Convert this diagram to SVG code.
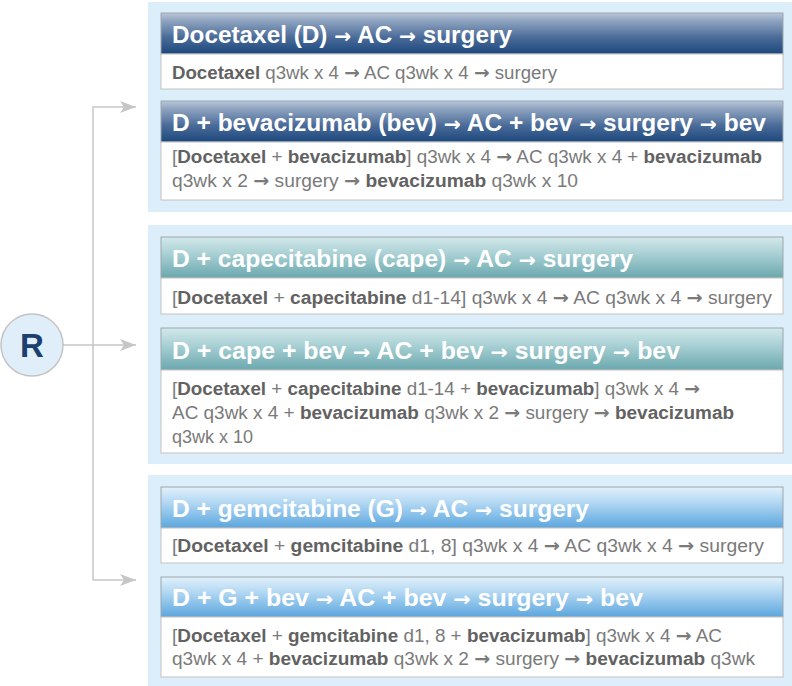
<svg xmlns="http://www.w3.org/2000/svg" width="792" height="686" viewBox="0 0 792 686">
<defs>
<linearGradient id="gNavy" x1="0" y1="0" x2="0" y2="1">
<stop offset="0" stop-color="#b9c6d8"/>
<stop offset="0.2" stop-color="#8da2bf"/>
<stop offset="0.6" stop-color="#4a6b98"/>
<stop offset="1" stop-color="#1c477d"/>
</linearGradient>
<linearGradient id="gTeal" x1="0" y1="0" x2="0" y2="1">
<stop offset="0" stop-color="#d3e8ea"/>
<stop offset="0.4" stop-color="#aad1d5"/>
<stop offset="1" stop-color="#6aa8ae"/>
</linearGradient>
<linearGradient id="gSky" x1="0" y1="0" x2="0" y2="1">
<stop offset="0" stop-color="#e2f1fb"/>
<stop offset="0.4" stop-color="#b0d6f2"/>
<stop offset="1" stop-color="#5ba6de"/>
</linearGradient>
<marker id="arr" markerWidth="16" markerHeight="12" refX="16" refY="6" orient="auto" markerUnits="userSpaceOnUse">
<path d="M0,0 L16,6 L0,12 L4,6 z" fill="#c6c6c6"/>
</marker>
</defs>
<style>
.panel{fill:#dbeef9}
.hdr{stroke:#9ea6ae;stroke-width:1}
.body{fill:#fff;stroke:#c2c2c2;stroke-width:1}
.ht{font-family:"Liberation Sans",Arial,sans-serif;font-weight:bold;font-size:24px;fill:#fff}
.bt{font-family:"Liberation Sans",Arial,sans-serif;font-size:18px;fill:#7a7a7a}
.b{font-weight:bold;fill:#626262}
.a{font-family:"DejaVu Sans",sans-serif;font-weight:bold}
.ha{font-family:"DejaVu Sans",sans-serif;font-weight:bold;font-size:20px}
.con{fill:none;stroke:#c6c6c6;stroke-width:1.5}
</style>
<rect class="panel" x="148" y="2" width="644" height="210"/>
<rect class="panel" x="148" y="225" width="644" height="239"/>
<rect class="panel" x="148" y="475" width="644" height="211"/>
<g id="connectors">
<path class="con" d="M93,580 L93,107 L136,107" marker-end="url(#arr)"/>
<path class="con" d="M93,580 L136,580" marker-end="url(#arr)"/>
<path class="con" d="M63,345 L136,345" marker-end="url(#arr)"/>
</g>
<g id="R">
<circle cx="32" cy="345" r="31" fill="#dfeef9" stroke="#c4c4c4" stroke-width="1.5"/>
<text x="32" y="357" text-anchor="middle" font-family="'Liberation Sans',Arial,sans-serif" font-weight="bold" font-size="33" fill="#1b3f6f">R</text>
</g>
<g id="arm1">
<rect class="hdr" x="161" y="13" width="622" height="41" fill="url(#gNavy)"/>
<text class="ht" x="172" y="43" textLength="340" lengthAdjust="spacingAndGlyphs">Docetaxel (D) <tspan class="ha">→</tspan> AC <tspan class="ha">→</tspan> surgery</text>
<rect class="body" x="161" y="54" width="622" height="35"/>
<text class="bt" x="172" y="79" textLength="385" lengthAdjust="spacingAndGlyphs"><tspan class="b">Docetaxel</tspan> q3wk x 4 <tspan class="a">→</tspan> AC q3wk x 4 <tspan class="a">→</tspan> surgery</text>
</g>
<g id="arm2">
<rect class="hdr" x="161" y="101" width="622" height="41" fill="url(#gNavy)"/>
<text class="ht" x="172" y="131" textLength="594" lengthAdjust="spacingAndGlyphs">D + bevacizumab (bev) <tspan class="ha">→</tspan> AC + bev <tspan class="ha">→</tspan> surgery <tspan class="ha">→</tspan> bev</text>
<rect class="body" x="161" y="142" width="622" height="58"/>
<text class="bt" x="172" y="163" textLength="590" lengthAdjust="spacingAndGlyphs">[<tspan class="b">Docetaxel</tspan> + <tspan class="b">bevacizumab</tspan>] q3wk x 4 <tspan class="a">→</tspan> AC q3wk x 4 + <tspan class="b">bevacizumab</tspan></text>
<text class="bt" x="172" y="187" textLength="406" lengthAdjust="spacingAndGlyphs">q3wk x 2 <tspan class="a">→</tspan> surgery <tspan class="a">→</tspan> <tspan class="b">bevacizumab</tspan> q3wk x 10</text>
</g>
<g id="arm3">
<rect class="hdr" x="161" y="237" width="622" height="41" fill="url(#gTeal)"/>
<text class="ht" x="172" y="267" textLength="461" lengthAdjust="spacingAndGlyphs">D + capecitabine (cape) <tspan class="ha">→</tspan> AC <tspan class="ha">→</tspan> surgery</text>
<rect class="body" x="161" y="278" width="622" height="36"/>
<text class="bt" x="172" y="304" textLength="600" lengthAdjust="spacingAndGlyphs">[<tspan class="b">Docetaxel</tspan> + <tspan class="b">capecitabine</tspan> d1-14] q3wk x 4 <tspan class="a">→</tspan> AC q3wk x 4 <tspan class="a">→</tspan> surgery</text>
</g>
<g id="arm4">
<rect class="hdr" x="161" y="328" width="622" height="42" fill="url(#gTeal)"/>
<text class="ht" x="172" y="359" textLength="508" lengthAdjust="spacingAndGlyphs">D + cape + bev <tspan class="ha">→</tspan> AC + bev <tspan class="ha">→</tspan> surgery <tspan class="ha">→</tspan> bev</text>
<rect class="body" x="161" y="370" width="622" height="83"/>
<text class="bt" x="172" y="395" textLength="528" lengthAdjust="spacingAndGlyphs">[<tspan class="b">Docetaxel</tspan> + <tspan class="b">capecitabine</tspan> d1-14 + <tspan class="b">bevacizumab</tspan>] q3wk x 4 <tspan class="a">→</tspan></text>
<text class="bt" x="172" y="419" textLength="562" lengthAdjust="spacingAndGlyphs">AC q3wk x 4 + <tspan class="b">bevacizumab</tspan> q3wk x 2 <tspan class="a">→</tspan> surgery <tspan class="a">→</tspan> <tspan class="b">bevacizumab</tspan></text>
<text class="bt" x="172" y="443">q3wk x 10</text>
</g>
<g id="arm5">
<rect class="hdr" x="161" y="487" width="622" height="41" fill="url(#gSky)"/>
<text class="ht" x="172" y="517" textLength="417" lengthAdjust="spacingAndGlyphs">D + gemcitabine (G) <tspan class="ha">→</tspan> AC <tspan class="ha">→</tspan> surgery</text>
<rect class="body" x="161" y="528" width="622" height="35"/>
<text class="bt" x="172" y="552" textLength="592" lengthAdjust="spacingAndGlyphs">[<tspan class="b">Docetaxel</tspan> + <tspan class="b">gemcitabine</tspan> d1, 8] q3wk x 4 <tspan class="a">→</tspan> AC q3wk x 4 <tspan class="a">→</tspan> surgery</text>
</g>
<g id="arm6">
<rect class="hdr" x="161" y="577" width="622" height="40" fill="url(#gSky)"/>
<text class="ht" x="172" y="606" textLength="471" lengthAdjust="spacingAndGlyphs">D + G + bev <tspan class="ha">→</tspan> AC + bev <tspan class="ha">→</tspan> surgery <tspan class="ha">→</tspan> bev</text>
<rect class="body" x="161" y="617" width="622" height="60"/>
<text class="bt" x="172" y="642" textLength="550" lengthAdjust="spacingAndGlyphs">[<tspan class="b">Docetaxel</tspan> + <tspan class="b">gemcitabine</tspan> d1, 8 + <tspan class="b">bevacizumab</tspan>] q3wk x 4 <tspan class="a">→</tspan> AC</text>
<text class="bt" x="172" y="665" textLength="583" lengthAdjust="spacingAndGlyphs">q3wk x 4 + <tspan class="b">bevacizumab</tspan> q3wk x 2 <tspan class="a">→</tspan> surgery <tspan class="a">→</tspan> <tspan class="b">bevacizumab</tspan> q3wk</text>
</g>
</svg>
